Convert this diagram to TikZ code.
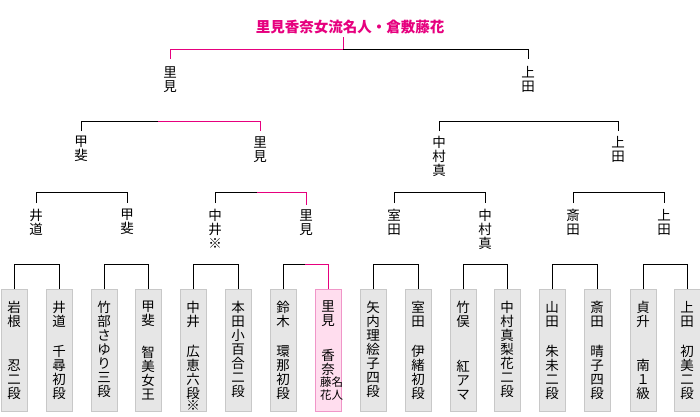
\documentclass[tikz,border=0pt]{standalone}
\usepackage{fontspec}
\setmainfont{Noto Sans CJK JP}
\definecolor{winpink}{RGB}{230,0,126}
\definecolor{boxgray}{RGB}{230,230,230}
\definecolor{boxedge}{RGB}{200,200,200}
\definecolor{champfill}{RGB}{255,221,238}
\definecolor{champedge}{RGB}{240,150,200}
\newcommand{\player}[2]{\parbox[c][98pt][s]{16pt}{\centering #1\par\vfill #2\par}}
\newcommand{\belowmark}[1]{\par\nointerlineskip\vbox to 0pt{\kern1pt\hbox to\hsize{\hss #1\hss}\vss}}

\begin{document}
\begin{tikzpicture}[x=1pt, y=-1pt,
  every node/.style={font=\fontsize{13.5}{14}\selectfont, inner sep=0pt},
  vname/.style={anchor=north, align=center},
  player/.style={draw=boxedge, fill=boxgray, line width=1pt, minimum width=26pt, minimum height=122pt, anchor=north},
  champ/.style={player, draw=champedge, fill=champfill},
  bline/.style={line width=1pt},
  pline/.style={line width=1pt, winpink}]
  \useasboundingbox (0,0) rectangle (700,416);

  \node[font=\fontsize{14.5}{16}\selectfont\bfseries, text=winpink] (title) at (350,27) {里見香奈女流名人・倉敷藤花};

  \node[vname] (s1) at (170,66) {里\\見};
  \node[vname] (s2) at (528,66) {上\\田};

  \node[vname] (r1) at (81,136) {甲\\斐};
  \node[vname] (r2) at (260,136) {里\\見};
  \node[vname] (r3) at (439,136) {中\\村\\真};
  \node[vname] (r4) at (618,136) {上\\田};

  \node[vname] (q1) at (36,209) {井\\道};
  \node[vname] (q2) at (127,209) {甲\\斐};
  \node[vname] (q3) at (215,209) {中\\井\\※};
  \node[vname] (q4) at (306,209) {里\\見};
  \node[vname] (q5) at (394,209) {室\\田};
  \node[vname] (q6) at (485,209) {中\\村\\真};
  \node[vname] (q7) at (573,209) {斎\\田};
  \node[vname] (q8) at (664,209) {上\\田};

  \node[player] (p1) at (14,289) {\player{岩\\根}{忍\\二\\段}};
  \node[player] (p2) at (59,289) {\player{井\\道}{千\\尋\\初\\段}};
  \node[player] (p3) at (104,289) {\player{竹\\部\\さ\\ゆ\\り\\三\\段}{}};
  \node[player] (p4) at (148,289) {\player{甲\\斐}{智\\美\\女\\王}};
  \node[player] (p5) at (193,289) {\player{中\\井}{広\\恵\\六\\段\belowmark{※}}};
  \node[player] (p6) at (238,289) {\player{本\\田\\小\\百\\合\\二\\段}{}};
  \node[player] (p7) at (283,289) {\player{鈴\\木}{環\\那\\初\\段}};
  \node[champ] (p8) at (328,289) {\player{里\\見}{香\\奈\par{\fontsize{11.5}{12.5}\selectfont 藤名\\花人\par}}};
  \node[player] (p9) at (373,289) {\player{矢\\内\\理\\絵\\子\\四\\段}{}};
  \node[player] (p10) at (418,289) {\player{室\\田}{伊\\緒\\初\\段}};
  \node[player] (p11) at (463,289) {\player{竹\\俣}{紅\\ア\\マ}};
  \node[player] (p12) at (507,289) {\player{中\\村\\真\\梨\\花\\二\\段}{}};
  \node[player] (p13) at (552,289) {\player{山\\田}{朱\\未\\二\\段}};
  \node[player] (p14) at (597,289) {\player{斎\\田}{晴\\子\\四\\段}};
  \node[player] (p15) at (643,289) {\player{貞\\升}{南\\１\\級}};
  \node[player] (p16) at (687,289) {\player{上\\田}{初\\美\\二\\段}};

  % final
  \coordinate (top) at (343,49);
  \draw[pline, shorten >=3pt] (top) -- (top |- title.south);
  \draw[pline, shorten <=7pt] (s1.north) |- (top);
  \draw[bline, shorten >=7pt] (top) -| (s2.north);

  % semi-finals
  \coordinate (c2) at (158,121);
  \draw[bline, shorten <=5pt] (r1.north) |- (c2);
  \draw[pline, shorten >=5pt] (c2) -| (r2.north);
  \draw[bline, shorten <=5pt, shorten >=5pt] (r3.north) -- ++(0,-15) -| (r4.north);

  % quarter-finals
  \draw[bline, shorten <=6pt, shorten >=6pt] (q1.north) -- ++(0,-17) -| (q2.north);
  \coordinate (c3) at (257,192);
  \draw[bline, shorten <=6pt] (q3.north) |- (c3);
  \draw[pline, shorten >=4pt] (c3) -| (q4.north);
  \draw[bline, shorten <=6pt, shorten >=6pt] (q5.north) -- ++(0,-17) -| (q6.north);
  \draw[bline, shorten <=6pt, shorten >=6pt] (q7.north) -- ++(0,-17) -| (q8.north);

  % first round
  \draw[bline] (p1.north) -- ++(0,-25) -| (p2.north);
  \draw[bline] (p3.north) -- ++(0,-25) -| (p4.north);
  \draw[bline] (p5.north) -- ++(0,-25) -| (p6.north);
  \coordinate (c4) at (305,264);
  \draw[bline] (p7.north) |- (c4);
  \draw[pline] (c4) -| (p8.north);
  \draw[bline] (p9.north) -- ++(0,-25) -| (p10.north);
  \draw[bline] (p11.north) -- ++(0,-25) -| (p12.north);
  \draw[bline] (p13.north) -- ++(0,-25) -| (p14.north);
  \draw[bline] (p15.north) -- ++(0,-25) -| (p16.north);
\end{tikzpicture}
\end{document}
